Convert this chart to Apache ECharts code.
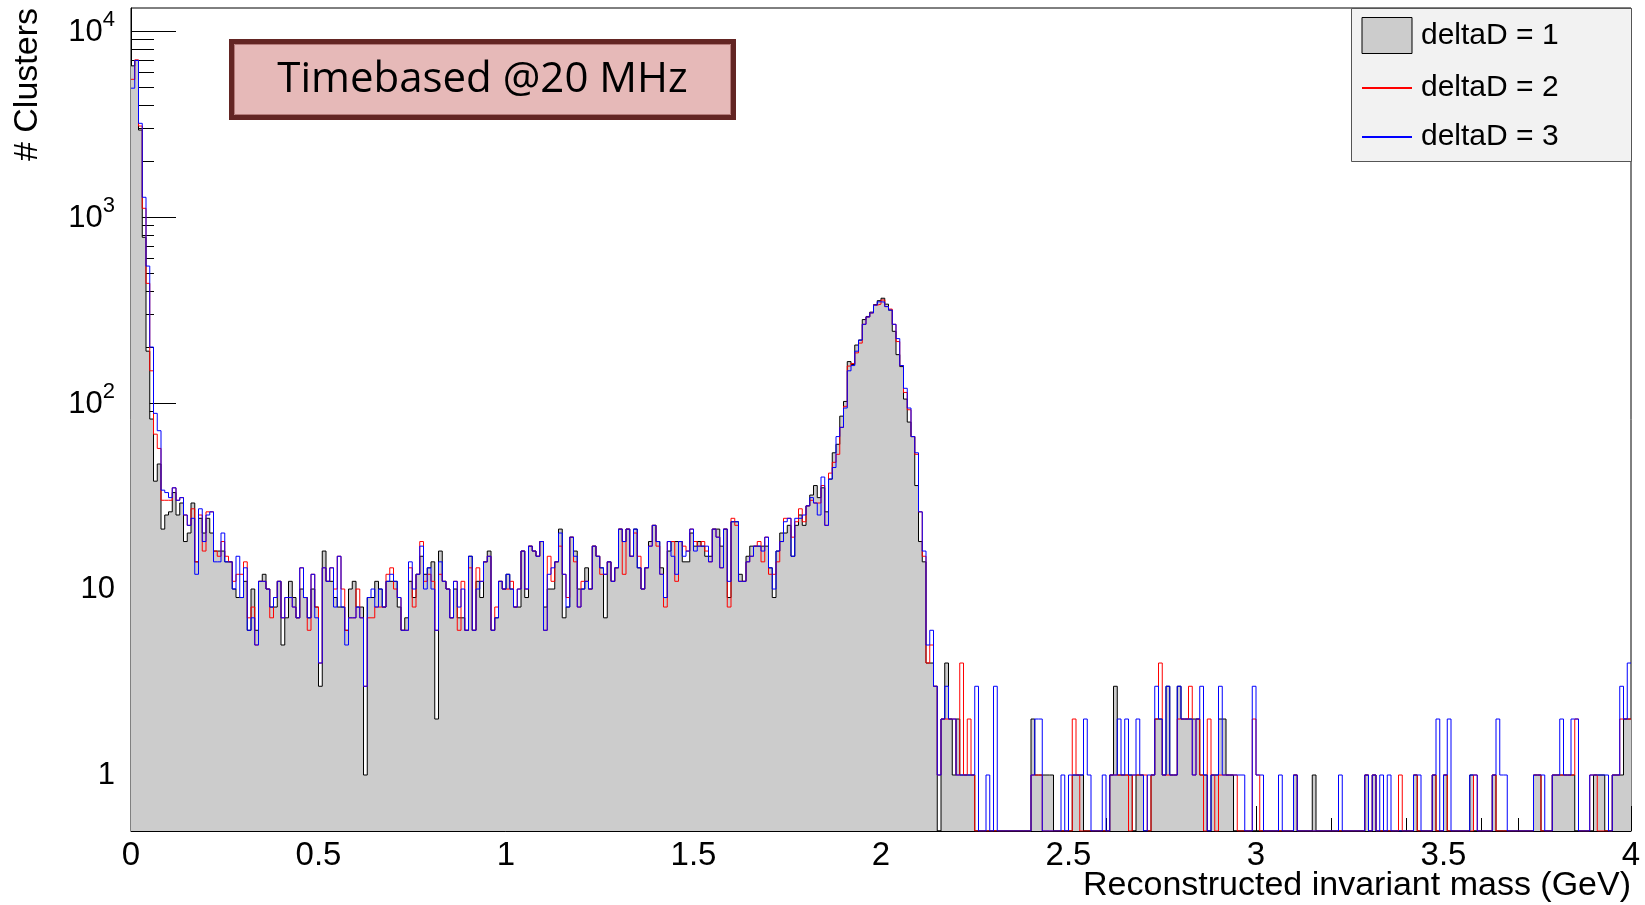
<!DOCTYPE html>
<html>
<head>
<meta charset="utf-8">
<title>Reconstructed invariant mass</title>
<script src="https://cdn.jsdelivr.net/npm/echarts@6.0.0/dist/echarts.min.js"></script>
<style>
    html, body { margin: 0; padding: 0; background: #fff; }
    #chart { width: 1645px; height: 905px; }
</style>
</head>
<body>
<div id="chart"></div>
<script>
// binning of the histograms (400 bins of 10 MeV)
const xMin = 0;
const xMax = 4;
const binWidth = 0.01;
const yMin = 0.5;
const yMax = 13300;

const seriesNames = ['deltaD = 1', 'deltaD = 2', 'deltaD = 3'];

// bin contents, one row = 10 bins
const countsD1 = [
    6500, 6950, 2935, 778, 190, 82, 38, 47, 21, 25,
    26, 33, 25, 29, 18, 20, 29, 14, 24, 20,
    24, 20, 16, 16, 16, 14, 14, 10, 9, 9,
    11, 6, 10, 6, 11, 12, 10, 8, 8, 11,
    5, 7, 11, 9, 7, 10, 9, 7, 10, 8,
    3, 16, 11, 11, 9, 8, 8, 6, 10, 11,
    8, 8, 1, 9, 9, 11, 10, 8, 11, 11,
    11, 8, 6, 7, 11, 9, 12, 15, 12, 13,
    14, 2, 16, 11, 10, 7, 10, 7, 7, 6,
    15, 6, 11, 9, 14, 16, 6, 7, 11, 10,
    12, 10, 8, 8, 16, 9, 17, 16, 15, 18,
    8, 10, 10, 14, 21, 7, 8, 19, 16, 10,
    10, 13, 10, 17, 15, 13, 7, 14, 11, 13,
    21, 18, 21, 15, 21, 13, 10, 13, 18, 22,
    18, 13, 9, 16, 18, 18, 18, 14, 14, 20,
    17, 18, 17, 15, 15, 21, 21, 17, 21, 9,
    23, 23, 12, 11, 15, 17, 17, 17, 17, 17,
    13, 9, 16, 20, 20, 22, 15, 22, 25, 22,
    28, 32, 36, 31, 35, 26, 39, 54, 60, 85,
    102, 167, 161, 205, 218, 281, 292, 308, 338, 355,
    366, 340, 316, 243, 182, 157, 105, 79, 66, 36,
    18, 14, 4, 4, 3, 0, 2, 4, 2, 1,
    2, 1, 1, 1, 1, 0, 0, 0, 0, 0,
    0, 0, 0, 0, 0, 0, 0, 0, 0, 0,
    2, 1, 1, 1, 1, 1, 0, 0, 0, 0,
    0, 1, 1, 1, 0, 0, 0, 0, 0, 0,
    0, 1, 3, 1, 1, 1, 1, 0, 1, 1,
    0, 0, 1, 2, 2, 1, 3, 1, 1, 3,
    2, 2, 2, 2, 2, 1, 1, 0, 1, 1,
    2, 2, 1, 1, 0, 0, 0, 0, 0, 0,
    0, 0, 0, 0, 0, 0, 0, 0, 0, 0,
    1, 0, 0, 0, 0, 1, 0, 0, 0, 0,
    0, 0, 0, 0, 0, 0, 0, 0, 0, 1,
    0, 1, 0, 0, 0, 0, 0, 0, 0, 0,
    0, 0, 1, 0, 0, 0, 0, 1, 0, 0,
    1, 0, 0, 0, 0, 0, 0, 1, 0, 0,
    0, 0, 0, 1, 0, 0, 0, 0, 0, 0,
    0, 0, 0, 0, 1, 1, 0, 0, 0, 1,
    1, 1, 1, 1, 1, 0, 0, 0, 0, 0,
    1, 1, 1, 0, 0, 1, 1, 1, 2, 2
];

const countsD2 = [
    5500, 7000, 3085, 1114, 440, 149, 68, 57, 30, 30,
    30, 35, 30, 31, 25, 22, 27, 14, 25, 16,
    26, 26, 16, 15, 18, 15, 14, 11, 12, 12,
    14, 7, 8, 5, 11, 11, 10, 7, 9, 11,
    7, 9, 9, 8, 7, 13, 9, 6, 12, 8,
    4, 13, 11, 13, 10, 15, 10, 6, 7, 7,
    10, 7, 3, 7, 7, 8, 8, 8, 12, 13,
    10, 9, 6, 6, 13, 8, 12, 18, 11, 12,
    11, 6, 12, 11, 10, 7, 11, 6, 11, 6,
    13, 6, 13, 11, 14, 15, 6, 8, 11, 10,
    10, 11, 8, 10, 16, 10, 17, 16, 15, 18,
    6, 15, 11, 14, 17, 12, 9, 19, 14, 8,
    11, 11, 10, 17, 15, 12, 12, 14, 11, 13,
    21, 12, 21, 15, 20, 15, 10, 13, 17, 22,
    17, 12, 8, 18, 18, 11, 18, 17, 16, 21,
    18, 17, 18, 16, 14, 21, 19, 13, 21, 8,
    24, 22, 11, 11, 14, 15, 17, 18, 14, 19,
    12, 12, 14, 18, 24, 24, 19, 23, 27, 23,
    28, 30, 29, 29, 36, 22, 42, 48, 53, 74,
    96, 158, 163, 186, 210, 265, 290, 305, 336, 340,
    358, 330, 320, 265, 214, 159, 114, 92, 66, 53,
    26, 15, 4, 5, 3, 1, 2, 2, 2, 2,
    1, 4, 1, 2, 1, 0, 0, 0, 0, 0,
    0, 0, 0, 0, 0, 0, 0, 0, 0, 0,
    1, 1, 1, 0, 0, 0, 0, 0, 0, 0,
    0, 2, 1, 0, 0, 0, 0, 0, 0, 0,
    0, 1, 1, 1, 1, 1, 0, 1, 1, 1,
    1, 0, 1, 2, 4, 1, 1, 1, 1, 2,
    2, 2, 3, 1, 2, 1, 0, 2, 1, 0,
    1, 1, 1, 1, 1, 0, 0, 0, 0, 2,
    1, 0, 0, 0, 0, 0, 0, 0, 0, 0,
    1, 0, 0, 0, 0, 0, 0, 0, 0, 0,
    0, 0, 0, 0, 0, 0, 0, 0, 0, 1,
    0, 1, 0, 0, 0, 0, 0, 0, 1, 0,
    0, 0, 1, 0, 0, 0, 0, 1, 0, 0,
    1, 0, 0, 0, 0, 0, 0, 0, 1, 0,
    0, 0, 0, 1, 0, 0, 0, 0, 0, 0,
    0, 0, 0, 0, 1, 1, 0, 0, 0, 1,
    1, 1, 1, 1, 1, 2, 0, 0, 0, 1,
    1, 0, 0, 0, 0, 1, 1, 2, 2, 2
];

const countsD3 = [
    4930, 6950, 3190, 1277, 545, 200, 88, 71, 34, 33,
    31, 35, 30, 31, 25, 22, 24, 12, 27, 18,
    25, 26, 14, 14, 20, 14, 14, 10, 15, 9,
    13, 6, 7, 5, 11, 11, 10, 8, 9, 11,
    7, 9, 9, 8, 7, 13, 9, 7, 12, 7,
    4, 13, 11, 13, 8, 15, 8, 5, 7, 7,
    8, 7, 3, 9, 10, 8, 10, 8, 11, 12,
    11, 9, 6, 6, 14, 10, 12, 17, 10, 13,
    10, 6, 14, 11, 10, 7, 11, 8, 10, 6,
    15, 6, 10, 11, 14, 15, 6, 7, 11, 10,
    12, 10, 8, 10, 16, 10, 17, 16, 15, 18,
    6, 12, 13, 14, 20, 12, 8, 19, 15, 8,
    10, 11, 10, 17, 15, 13, 12, 14, 11, 13,
    21, 18, 21, 15, 21, 13, 10, 13, 17, 22,
    18, 12, 9, 18, 15, 12, 18, 15, 16, 21,
    16, 17, 17, 17, 14, 21, 19, 13, 21, 11,
    23, 23, 11, 11, 14, 15, 17, 17, 16, 19,
    13, 10, 16, 18, 23, 24, 15, 24, 24, 25,
    28, 31, 29, 25, 40, 22, 39, 45, 66, 74,
    94, 149, 159, 190, 218, 265, 290, 305, 336, 350,
    349, 330, 316, 265, 222, 159, 120, 94, 66, 54,
    26, 16, 5, 6, 3, 1, 2, 3, 2, 2,
    1, 1, 1, 1, 1, 3, 0, 0, 1, 0,
    3, 0, 0, 0, 0, 0, 0, 0, 0, 0,
    1, 2, 2, 0, 0, 0, 0, 0, 1, 0,
    1, 1, 1, 1, 2, 1, 0, 0, 0, 1,
    0, 1, 1, 2, 1, 2, 1, 1, 2, 1,
    0, 1, 1, 3, 2, 1, 3, 1, 1, 3,
    2, 2, 2, 1, 2, 3, 1, 0, 1, 1,
    3, 1, 1, 1, 1, 1, 1, 0, 0, 3,
    1, 1, 0, 0, 0, 0, 1, 0, 0, 0,
    1, 0, 0, 0, 0, 0, 0, 0, 0, 0,
    0, 0, 1, 0, 0, 0, 0, 0, 0, 1,
    0, 1, 0, 1, 0, 1, 0, 0, 0, 0,
    0, 0, 1, 1, 0, 0, 0, 1, 2, 0,
    1, 2, 0, 0, 0, 0, 0, 1, 1, 0,
    0, 0, 0, 1, 2, 1, 1, 0, 0, 0,
    0, 0, 0, 0, 1, 1, 1, 0, 0, 1,
    1, 2, 1, 1, 2, 2, 0, 0, 0, 1,
    1, 1, 1, 1, 0, 1, 1, 3, 2, 4
];

// axis ticks
const xTickStep = 0.5;
const yMajorTicks = [1, 10, 100, 1000, 10000];
const yMinorTicks = [
    0.6, 0.7, 0.8, 0.9,
    2, 3, 4, 5, 6, 7, 8, 9,
    20, 30, 40, 50, 60, 70, 80, 90,
    200, 300, 400, 500, 600, 700, 800, 900,
    2000, 3000, 4000, 5000, 6000, 7000, 8000, 9000
];

const fontFamily = '"Liberation Sans", Arial, Helvetica, sans-serif';

// 把计数转换成阶梯线的点（空的bin画在最底部）
function toSteps(counts) {
    const points = counts.map((c, i) => [
        +(xMin + i * binWidth).toFixed(2),
        Math.max(c, yMin)
    ]);
    points.push([xMax, Math.max(counts[counts.length - 1], yMin)]);
    return points;
}

// y轴标签 10^n
function yLabel(value) {
    const e = Math.round(Math.log10(value));
    if (e <= 0) return '1';
    if (e === 1) return '10';
    return '{b|10}{sup|' + e + '}';
}

function histSeries(name, counts, color, z, filled) {
    const s = {
        name: name,
        type: 'line',
        step: 'end',
        data: toSteps(counts),
        symbol: 'none',
        showSymbol: false,
        lineStyle: { color: color, width: 1 },
        itemStyle: { color: filled ? '#cccccc' : color },
        emphasis: { disabled: true },
        z: z
    };
    if (filled) {
        s.areaStyle = { color: '#cccccc', opacity: 1, origin: 'start' };
    }
    return s;
}

const chart = echarts.init(document.getElementById('chart'));

const option = {
    animation: false,
    backgroundColor: '#ffffff',
    grid: {
        left: 131, right: 14, top: 8, bottom: 74,
        containLabel: false,
        outerBoundsMode: 'none',
        show: true, borderColor: '#000', borderWidth: 1,
        backgroundColor: 'transparent'
    },
    legend: {
        orient: 'vertical',
        left: 1361,
        top: 17,
        itemWidth: 50,
        itemHeight: 36,
        itemGap: 19,
        padding: 0,
        selectedMode: false,
        z: 5,
        textStyle: { fontSize: 30, color: '#000', fontFamily: fontFamily, padding: [0, 0, 0, 4] },
        data: [
            { name: seriesNames[0], icon: 'rect', itemStyle: { color: '#cccccc', borderColor: '#000', borderWidth: 1 } },
            { name: seriesNames[1], itemStyle: { opacity: 0 } },
            { name: seriesNames[2], itemStyle: { opacity: 0 } }
        ]
    },
    xAxis: {
        type: 'value',
        min: xMin,
        max: xMax,
        interval: xTickStep,
        axisLine: { show: true, lineStyle: { color: '#000', width: 1 } },
        axisTick: { show: true, inside: true, length: 25, lineStyle: { color: '#000', width: 1 } },
        minorTick: { show: true, splitNumber: 5, length: 13, lineStyle: { color: '#000', width: 1 } },
        splitLine: { show: false },
        axisLabel: { fontSize: 33, color: '#000', margin: 8, fontFamily: fontFamily },
        name: 'Reconstructed invariant mass (GeV)',
        nameLocation: 'end',
        nameGap: 0,
        nameMoveOverlap: false,
        nameTextStyle: {
            fontSize: 34, color: '#000', fontFamily: fontFamily,
            align: 'right', verticalAlign: 'top', padding: [38, 0, 0, 0]
        }
    },
    yAxis: [
        {
            type: 'log',
            logBase: 10,
            min: yMin,
            max: yMax,
            axisLine: { show: true, onZero: false, lineStyle: { color: '#000', width: 1 } },
            axisTick: { show: true, inside: true, length: 45, customValues: yMajorTicks, lineStyle: { color: '#000', width: 1 } },
            minorTick: { show: false },
            splitLine: { show: false },
            axisLabel: {
                customValues: yMajorTicks,
                formatter: yLabel,
                margin: 16,
                fontSize: 31,
                color: '#000',
                fontFamily: fontFamily,
                rich: {
                    b: { fontSize: 31, color: '#000', fontFamily: fontFamily, verticalAlign: 'bottom', lineHeight: 34 },
                    sup: { fontSize: 22, color: '#000', fontFamily: fontFamily, verticalAlign: 'bottom', lineHeight: 22, padding: [0, 0, 17, 0] }
                }
            }
        },
        {
            // 次刻度
            type: 'log',
            logBase: 10,
            position: 'left',
            min: yMin,
            max: yMax,
            axisLine: { show: false },
            axisTick: { show: true, inside: true, length: 23, customValues: yMinorTicks, lineStyle: { color: '#000', width: 1 } },
            axisLabel: { show: false },
            splitLine: { show: false }
        }
    ],
    graphic: [
        // 图例背景框
        {
            type: 'rect', z: 1,
            shape: { x: 1351.5, y: 8.5, width: 280, height: 153 },
            style: { fill: '#f2f2f2', stroke: '#555', lineWidth: 1 }
        },
        // 标题框
        {
            type: 'rect', z: 20,
            shape: { x: 231.5, y: 41.5, width: 502, height: 76 },
            style: { fill: '#e6b9b8', stroke: '#632523', lineWidth: 5 }
        },
        {
            type: 'rect', z: 21,
            shape: { x: 234.5, y: 44.5, width: 496, height: 70 },
            style: { fill: null, stroke: '#b47a79', lineWidth: 1 }
        },
        {
            type: 'text', z: 22,
            x: 482.5, y: 80,
            style: {
                text: 'Timebased @20 MHz',
                fontSize: 42, fontFamily: '"Open Sans", "Noto Sans", sans-serif',
                fill: '#000', align: 'center', verticalAlign: 'middle'
            }
        },
        // y轴标题
        {
            type: 'text', z: 22,
            x: 28, y: 8,
            rotation: Math.PI / 2,
            style: {
                text: '# Clusters',
                fontSize: 34, fontFamily: fontFamily,
                fill: '#000', align: 'right', verticalAlign: 'middle'
            }
        }
    ],
    series: [
        histSeries(seriesNames[0], countsD1, '#000000', 2, true),
        histSeries(seriesNames[1], countsD2, '#ff0000', 3, false),
        histSeries(seriesNames[2], countsD3, '#0000ff', 4, false)
    ]
};

chart.setOption(option);
</script>
</body>
</html>
